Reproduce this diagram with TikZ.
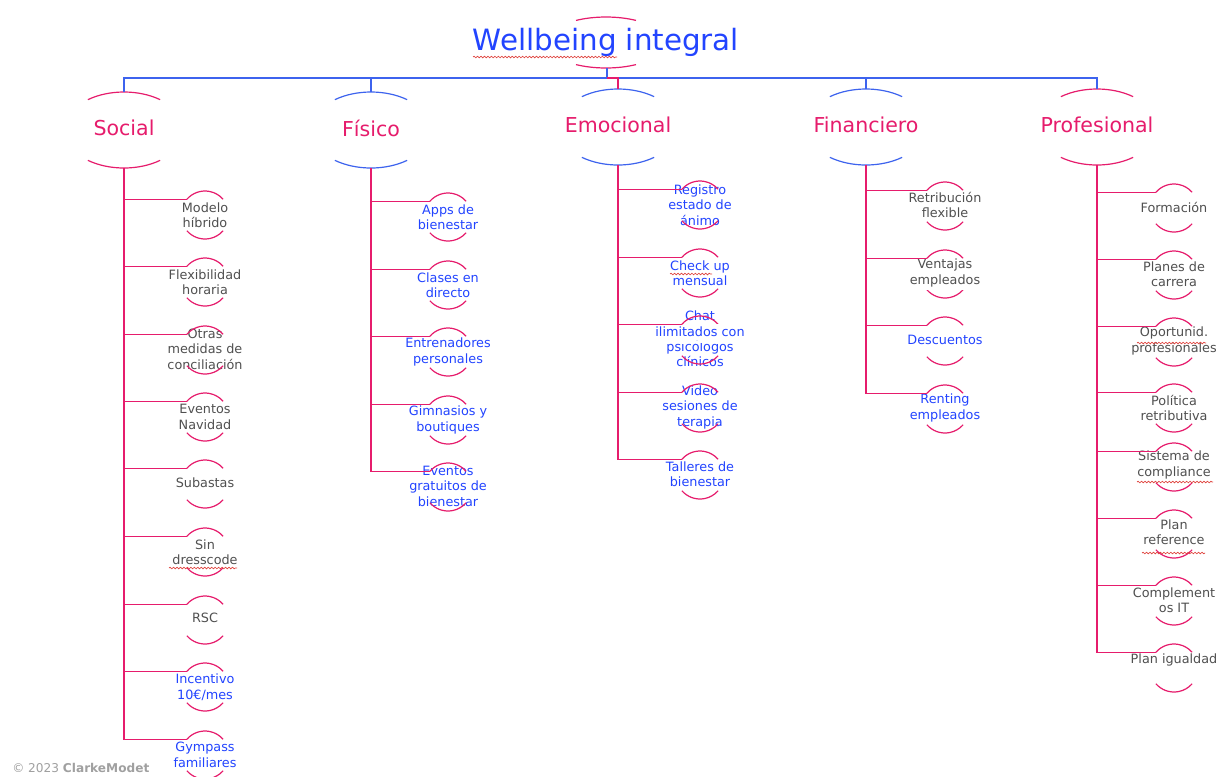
\documentclass[tikz,border=0pt]{standalone}
\usepackage{fontspec}
\setmainfont{DejaVu Sans}
\usetikzlibrary{decorations.pathmorphing}
\definecolor{cpink}{HTML}{E61C6C}
\definecolor{cblue}{HTML}{2244FF}
\definecolor{clblue}{HTML}{3D63EE}
\definecolor{cgray}{HTML}{505050}
\definecolor{ccopy}{HTML}{A0A0A0}
\definecolor{cwave}{HTML}{E0453F}
\tikzset{
  pinkline/.style={draw=cpink, line width=0.9pt},
  blueline/.style={draw=clblue, line width=0.8pt},
  leafgray/.style={text=cgray, font=\fontsize{9.6}{11.6}\selectfont, align=center, inner sep=0pt},
  leafblue/.style={leafgray, text=cblue},
  headtext/.style={text=cpink, font=\fontsize{15.4}{18}\selectfont, inner sep=0pt},
  titletext/.style={text=cblue, font=\fontsize{22}{26}\selectfont, inner sep=0pt},
  spell/.style={draw=cwave, line width=0.5pt, decorate, decoration={snake, amplitude=0.6pt, segment length=2.6pt}},
  gramm/.style={draw=clblue, double=white, double distance=1.3pt, line width=0.45pt},
}
% name, x, y (circle centre), text offset, style, text
\newcommand\leafnode[6]{%
  \coordinate (#1-c) at (#2,#3);
  \node[#5] (#1) at (#2,#3+#4) {#6};
  \draw[pinkline] ([shift={(221:24)}]#1-c) arc[start angle=139, end angle=41, radius=18pt];
  \draw[pinkline] ([shift={(139:24)}]#1-c) arc[start angle=221, end angle=319, radius=18pt];
  \coordinate (#1-in) at ([shift={(221:24)}]#1-c);
}
% name, x, y, arc colour, text
\newcommand\headnode[5]{%
  \coordinate (#1-c) at (#2,#3);
  \node[headtext] (#1) at (#2,#3-2) {#5};
  \draw[draw=#4, line width=0.9pt] ([shift={(233:60 and 38)}]#1-c) arc[start angle=127, end angle=53, x radius=45pt, y radius=28.5pt];
  \draw[draw=#4, line width=0.9pt] ([shift={(127:60 and 38)}]#1-c) arc[start angle=233, end angle=307, x radius=45pt, y radius=28.5pt];
  \coordinate (#1-top) at ([shift={(0,-38)}]#1-c);
  \coordinate (#1-bot) at ([shift={(0,38)}]#1-c);
}
\begin{document}
\begin{tikzpicture}[x=0.75pt, y=-0.75pt]
\fill[white] (0,0) rectangle (1219,776);
\useasboundingbox (0,0) rectangle (1219,776);

% title
\coordinate (title-c) at (606,42.5);
\node[titletext] (title) at (606,42) {Wellbeing integral};
\draw[pinkline] ([shift={(240:60 and 25.5)}]title-c) arc[start angle=120, end angle=60, x radius=45pt, y radius=19.1pt];
\draw[pinkline] ([shift={(120:60 and 25.5)}]title-c) arc[start angle=240, end angle=300, x radius=45pt, y radius=19.1pt];
\coordinate (title-bot) at (607,68);
\coordinate (bar) at (607,78);

% headers
\headnode{social}{124}{130}{cpink}{Social}
\headnode{fisico}{371}{130}{clblue}{Físico}
\headnode{emocional}{618}{127}{clblue}{Emocional}
\headnode{financiero}{866}{127}{clblue}{Financiero}
\headnode{profesional}{1097}{127}{cpink}{Profesional}

\draw[blueline] (title-bot) -- (bar);
\draw[blueline] (bar) -| (social-top);
\draw[blueline] (bar) -| (fisico-top);
\draw[blueline] (bar) -| (financiero-top);
\draw[blueline] (bar) -| (profesional-top);
\draw[pinkline] (bar) -| (emocional-top);

% Social
\leafnode{s1}{205}{215}{0}{leafgray}{Modelo\\híbrido}
\leafnode{s2}{205}{282}{0}{leafgray}{Flexibilidad\\horaria}
\leafnode{s3}{205}{350}{-1}{leafgray}{Otras\\medidas de\\conciliación}
\leafnode{s4}{205}{417}{0}{leafgray}{Eventos\\Navidad}
\leafnode{s5}{205}{484}{-1}{leafgray}{Subastas}
\leafnode{s6}{205}{552}{0}{leafgray}{Sin\\dresscode}
\leafnode{s7}{205}{620}{-2}{leafgray}{RSC}
\leafnode{s8}{205}{687}{0}{leafblue}{Incentivo\\10€/mes}
\leafnode{s9}{205}{755}{0}{leafblue}{Gympass\\familiares}
\foreach \i in {1,...,9} \draw[pinkline] (social-bot) |- (s\i-in);

% Fisico
\leafnode{f1}{448}{217}{0}{leafblue}{Apps de\\bienestar}
\leafnode{f2}{448}{285}{0}{leafblue}{Clases en\\directo}
\leafnode{f3}{448}{352}{0}{leafblue}{Entrenadores\\personales}
\leafnode{f4}{448}{420}{0}{leafblue}{Gimnasios y\\boutiques}
\leafnode{f5}{448}{487}{-1}{leafblue}{Eventos\\gratuitos de\\bienestar}
\foreach \i in {1,...,5} \draw[pinkline] (fisico-bot) |- (f\i-in);

% Emocional
\leafnode{e1}{700}{205}{0}{leafblue}{Registro\\estado de\\ánimo}
\leafnode{e2}{700}{273}{0}{leafblue}{Check up\\mensual}
\leafnode{e3}{700}{340}{-1}{leafblue}{Chat\\ilimitados con\\psicólogos\\clínicos}
\leafnode{e4}{700}{408}{-1}{leafblue}{Video\\sesiones de\\terapia}
\leafnode{e5}{700}{475}{-1}{leafblue}{Talleres de\\bienestar}
\foreach \i in {1,...,5} \draw[pinkline] (emocional-bot) |- (e\i-in);

% Financiero
\leafnode{n1}{945}{206}{-1}{leafgray}{Retribución\\flexible}
\leafnode{n2}{945}{274}{-1}{leafgray}{Ventajas\\empleados}
\leafnode{n3}{945}{341}{-1}{leafblue}{Descuentos}
\leafnode{n4}{945}{409}{-1}{leafblue}{Renting\\empleados}
\foreach \i in {1,...,4} \draw[pinkline] (financiero-bot) |- (n\i-in);

% Profesional
\leafnode{p1}{1174}{208}{-1}{leafgray}{Formación}
\leafnode{p2}{1174}{275}{-1}{leafgray}{Planes de\\carrera}
\leafnode{p3}{1174}{342}{-1}{leafgray}{Oportunid.\\profesionales}
\leafnode{p4}{1174}{408}{0}{leafgray}{Política\\retributiva}
\leafnode{p5}{1174}{467}{-2}{leafgray}{Sistema de\\compliance}
\leafnode{p6}{1174}{534}{-2}{leafgray}{Plan\\reference}
\leafnode{p7}{1174}{601}{-1}{leafgray}{Complement\\os IT}
\leafnode{p8}{1174}{668}{-8}{leafgray}{Plan igualdad}
\foreach \i in {1,...,8} \draw[pinkline] (profesional-bot) |- (p\i-in);

% spelling / grammar marks
\draw[spell] (473,57) -- (617,57);
\draw[spell] (670,274) -- (712,274);
\draw[spell] (169,568) -- (237,568);
\draw[spell] (1137,343) -- (1206,343);
\draw[spell] (1137,482) -- (1213,482);
\draw[spell] (1142,553) -- (1205,553);
\draw[gramm] (917,273) -- (980,273);
\draw[gramm] (909,289) -- (982,289);
\draw[gramm] (685,325) -- (721,325);
\draw[gramm] (654,342) -- (719,342);

% copyright
\node[anchor=west, text=ccopy, font=\fontsize{9.1}{11}\selectfont, inner sep=0pt] (copy) at (12,768) {© 2023 \textbf{ClarkeModet}};
\end{tikzpicture}
\end{document}
